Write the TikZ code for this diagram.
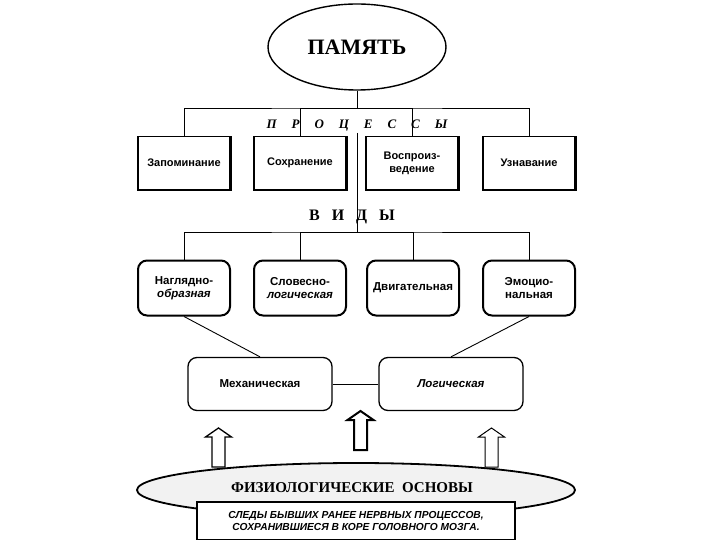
\documentclass[tikz,border=0pt]{standalone}
\usepackage{fontspec}
\setmainfont{Liberation Serif}
\setsansfont{Liberation Sans}
\newfontfamily\headfont{Liberation Serif}
\usetikzlibrary{shapes.geometric, positioning}

\newcommand{\lgap}{\hspace{1.15em}}

\begin{document}
\begin{tikzpicture}[
    x=1pt, y=-1pt,
    stage/.style={rectangle, draw=black, line width=1.2pt, fill=white,
                  minimum width=92pt, minimum height=53pt, inner sep=2pt,
                  font=\sffamily\bfseries\fontsize{11}{13}\selectfont, align=center},
    kind/.style={stage, rounded corners=9pt, line width=2pt, minimum height=55pt,
                 font=\sffamily\bfseries\fontsize{11.5}{13.5}\selectfont},
    mode/.style={kind, line width=1.3pt, minimum width=144pt, minimum height=53pt},
    caption/.style={font=\headfont\bfseries\fontsize{16}{18}\selectfont, inner sep=1pt},
    link/.style={line width=0.9pt},
    liftarrow/.pic={
        \draw[pic actions] (-6.5,0) -- (-6.5,-30) -- (-13,-30) -- (0,-39)
            -- (13,-30) -- (6.5,-30) -- (6.5,0) -- cycle;
    },
]
\useasboundingbox (0,0) rectangle (720,540);

% Top
\node[ellipse, draw, line width=1.4pt, minimum width=178pt, minimum height=86pt,
      font=\headfont\bfseries\fontsize{22}{24}\selectfont] (mem) at (357,47) {ПАМЯТЬ};
\node[font=\headfont\bfseries\itshape\fontsize{13}{15}\selectfont, inner sep=1pt]
     (proclbl) at (357,126)
     {П\lgap Р\lgap О\lgap Ц\lgap Е\lgap С\lgap С\lgap Ы};

% Processes
\node[stage] (zap)  at (184,163) {Запоминание};
\node[stage] (sokh) at (300,163) {Сохранение};
\node[stage] (vosp) at (412,163) {Воспроиз-\\ведение};
\node[stage] (uzn)  at (529,163) {Узнавание};
\foreach \n in {zap, sokh, vosp, uzn}
    \draw[line width=2.6pt] (\n.south west) -- (\n.south east) -- (\n.north east);

\coordinate (bus1) at (357,108);
\draw[link] (mem.south) -- (bus1);
\draw[link] (zap.north) |- (bus1) -| (uzn.north);
\draw[link] (sokh.north) |- (bus1);
\draw[link] (vosp.north) |- (bus1);

% Kinds
\coordinate (bus2) at (357,232);
\draw[link] (proclbl.south) -- (bus2);
\node[caption] (kindlbl) at (352,217) {В\hspace{0.75em}И\hspace{0.75em}Д\hspace{0.75em}Ы};

\node[kind] (nagl) at (184,288) {Наглядно-\\\itshape образная};
\node[kind] (slov) at (300,288) {Словесно-\\\itshape логическая};
\node[kind] (dvig) at (413,288) {Двигательная};
\node[kind] (emoc) at (529,288) {Эмоцио-\\нальная};

\draw[link] (nagl.north) |- (bus2) -| (emoc.north);
\draw[link] (slov.north) |- (bus2);
\draw[link] (dvig.north) |- (bus2);

% Mechanical / logical
\node[mode] (mech) at (260,384) {Механическая};
\node[mode] (logi) at (451,384) {\itshape Логическая};
\draw[link] (nagl.south) -- (mech.north);
\draw[link] (emoc.south) -- (logi.north);
\draw[link] (mech.east) -- (logi.west);

% Physiological basis
\node[ellipse, draw, line width=1.8pt, fill=gray!10, minimum width=438pt,
      minimum height=54pt] (phys) at (356,490) {};
\node[caption, font=\headfont\bfseries\fontsize{15}{17}\selectfont] (physlbl) at (352,488)
     {ФИЗИОЛОГИЧЕСКИЕ\hspace{0.5em}ОСНОВЫ};
\node[draw, line width=2.4pt, fill=white, minimum width=318pt, minimum height=38pt,
      align=center, font=\sffamily\bfseries\itshape\fontsize{10.2}{12.5}\selectfont]
     (trace) at (356,521)
     {СЛЕДЫ БЫВШИХ РАНЕЕ НЕРВНЫХ ПРОЦЕССОВ,\\СОХРАНИВШИЕСЯ В КОРЕ ГОЛОВНОГО МОЗГА.};

\pic[draw, line width=1.3pt, fill=white] (arrl) at (218.5,467) {liftarrow};
\pic[draw, line width=2pt, fill=white] (arrm) at (360.5,450) {liftarrow};
\pic[draw, line width=1pt, fill=white] (arrr) at (491.5,467) {liftarrow};
\end{tikzpicture}
\end{document}
